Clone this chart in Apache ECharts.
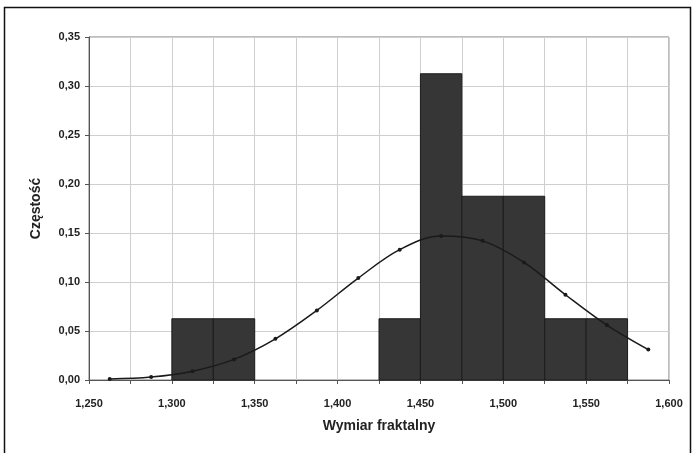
<!DOCTYPE html>
<html>
<head>
<meta charset="utf-8">
<script src="https://cdn.jsdelivr.net/npm/echarts@6/dist/echarts.min.js"></script>
<style>
  html, body { margin: 0; padding: 0; background: #fff; }
  #chart { width: 694px; height: 453px; }
</style>
</head>
<body>
<div id="chart"></div>
<script>
// Histogram bins (start, end) of fractal dimension and their relative frequency
const binStarts = [1.300, 1.325, 1.425, 1.450, 1.475, 1.500, 1.525, 1.550];
const binWidth = 0.025;
const binFreq = [0.0625, 0.0625, 0.0625, 0.3125, 0.1875, 0.1875, 0.0625, 0.0625];

// Fitted normal curve sampled at bin midpoints
const curveX = [1.2625, 1.2875, 1.3125, 1.3375, 1.3625, 1.3875, 1.4125, 1.4375,
                1.4625, 1.4875, 1.5125, 1.5375, 1.5625, 1.5875];
const curveY = [0.001, 0.003, 0.009, 0.021, 0.042, 0.071, 0.104, 0.133,
                0.147, 0.142, 0.120, 0.087, 0.056, 0.031];

const fmt = (v, d) => v.toFixed(d).replace('.', ',');

const chart = echarts.init(document.getElementById('chart'));
const font = '"Liberation Sans", Arial, sans-serif';

chart.setOption({
  animation: false,
  backgroundColor: '#ffffff',
  graphic: [{
    type: 'rect',
    shape: { x: 4.5, y: 7.5, width: 686, height: 470 },
    style: { fill: 'none', stroke: '#111', lineWidth: 1.5 },
    silent: true
  }],
  grid: { left: 89, right: 25, top: 37, bottom: 73, show: true,
          borderColor: '#7a7a7a', borderWidth: 1 },
  xAxis: {
    type: 'value', min: 1.25, max: 1.6, interval: 0.025,
    name: 'Wymiar fraktalny', nameLocation: 'middle', nameGap: 39,
    nameTextStyle: { fontFamily: font, fontWeight: 'bold', fontSize: 14, color: '#222' },
    axisLine: { show: true, lineStyle: { color: '#555', width: 1 } },
    axisTick: { show: true, length: 4, lineStyle: { color: '#555' } },
    axisLabel: {
      margin: 18, fontFamily: font, fontWeight: 'bold', fontSize: 11, color: '#222',
      formatter: v => (Math.round(v * 1000) % 50 === 0 ? fmt(v, 3) : '')
    },
    splitLine: { show: true, lineStyle: { color: '#cfcfcf', width: 1 } }
  },
  yAxis: {
    type: 'value', min: 0, max: 0.35, interval: 0.05,
    name: 'Częstość', nameLocation: 'middle', nameGap: 46, nameRotate: 90,
    nameTextStyle: { fontFamily: font, fontWeight: 'bold', fontSize: 14, color: '#222' },
    axisLine: { show: true, lineStyle: { color: '#555', width: 1 } },
    axisTick: { show: true, length: 4, lineStyle: { color: '#555' } },
    axisLabel: { margin: 9, fontFamily: font, fontWeight: 'bold', fontSize: 11, color: '#222',
                 formatter: v => fmt(v, 2) },
    splitLine: { show: true, lineStyle: { color: '#cfcfcf', width: 1 } }
  },
  series: [
    {
      type: 'custom',
      data: binStarts.map((s, i) => [s, s + binWidth, binFreq[i]]),
      encode: { x: [0, 1], y: 2 },
      renderItem: (params, api) => {
        const p0 = api.coord([api.value(0), api.value(2)]);
        const p1 = api.coord([api.value(1), 0]);
        return {
          type: 'rect',
          shape: { x: p0[0], y: p0[1], width: p1[0] - p0[0], height: p1[1] - p0[1] },
          style: { fill: '#363636', stroke: '#1c1c1c', lineWidth: 1 }
        };
      },
      z: 2
    },
    {
      type: 'line',
      data: curveX.map((x, i) => [x, curveY[i]]),
      smooth: 0.35,
      symbol: 'circle', symbolSize: 4,
      lineStyle: { color: '#1a1a1a', width: 1.5 },
      itemStyle: { color: '#1a1a1a' },
      z: 3
    }
  ]
});
</script>
</body>
</html>
